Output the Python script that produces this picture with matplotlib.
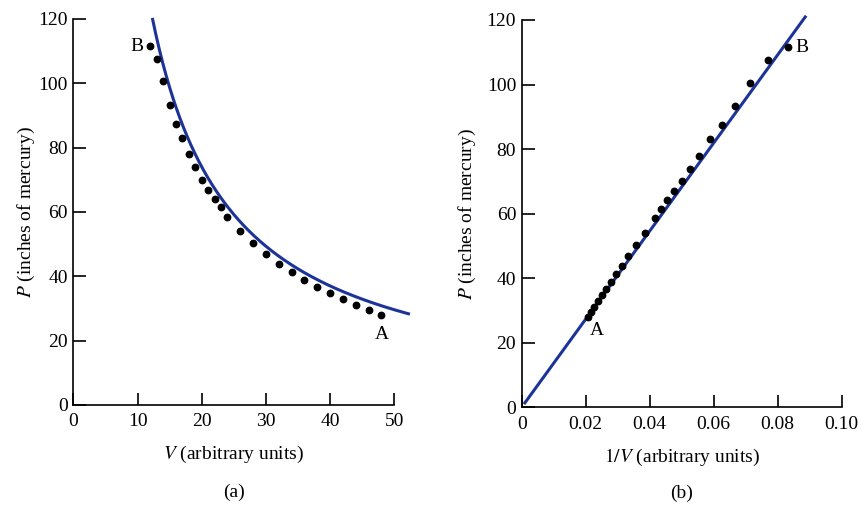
import matplotlib as mpl
mpl.rcParams['font.family'] = 'Liberation Serif'
mpl.rcParams['mathtext.fontset'] = 'stix'
mpl.rcParams['font.size'] = 14
import matplotlib.pyplot as plt
import numpy as np

# Boyle's data: volume (arbitrary units) and pressure (inches of mercury)
volume = [12, 13, 14, 15, 16, 17, 18, 19, 20, 21, 22, 23, 24,
          26, 28, 30, 32, 34, 36, 38, 40, 42, 44, 46, 48]
pressure = [111.5, 107.6, 100.6, 93.2, 87.4, 83.1, 78.0, 73.9, 70.0, 66.9, 64.1, 61.4, 58.5,
            54.1, 50.3, 47.0, 43.8, 41.2, 38.7, 36.7, 34.7, 32.8, 31.0, 29.5, 28.0]

# fitted curves
k_curve = 1480.0        # P = k/V in (a)
v_curve = [12.35, 52.2]  # range of the drawn hyperbola
slope_line = 1365.0     # P = slope * (1/V) in (b)
inv_line = [0.001, 0.0886]

xticks_a = [0, 10, 20, 30, 40, 50]
xticks_b = [0, 0.02, 0.04, 0.06, 0.08, 0.10]
xticklabels_b = ['0', '0.02', '0.04', '0.06', '0.08', '0.10']
yticks = [0, 20, 40, 60, 80, 100, 120]

blue = '#1c3497'

fig = plt.figure(figsize=(8.64, 5.08), dpi=100)
ax1 = fig.add_axes([0.0849, 0.2028, 0.3715, 0.760])
ax2 = fig.add_axes([0.6038, 0.1983, 0.3704, 0.7624])

V = np.array(volume, dtype=float)
P = np.array(pressure)

#----------(a) P vs V----------#
vv = np.linspace(v_curve[0], v_curve[1], 300)
ax1.plot(vv, k_curve/vv, color=blue, lw=2.2, clip_on=False, zorder=2)
ax1.plot(V, P, 'o', color='black', ms=4.6, clip_on=False, zorder=3)
ax1.set_xlim(0, 50)
ax1.set_ylim(0, 120)
ax1.set_xticks(xticks_a)
ax1.set_yticks(yticks)
ax1.set_xlabel('$V$ (arbitrary units)', labelpad=10)
ax1.set_ylabel('$P$ (inches of mercury)', labelpad=1)
ax1.text(V[0] - 1.1, P[0], 'B', ha='right', va='center')
ax1.text(V[-1], P[-1] - 3.5, 'A', ha='center', va='top')
ax1.text(0.5, -0.225, '(a)', transform=ax1.transAxes, ha='center', va='center')

#----------(b) P vs 1/V----------#
xx = np.array(inv_line)
ax2.plot(xx, slope_line*xx, color=blue, lw=2.2, clip_on=False, zorder=2)
ax2.plot(1/V, P, 'o', color='black', ms=4.6, clip_on=False, zorder=3)
ax2.set_xlim(0, 0.10)
ax2.set_ylim(0, 120)
ax2.set_xticks(xticks_b)
ax2.set_xticklabels(xticklabels_b)
ax2.set_yticks(yticks)
ax2.set_xlabel('$1/V$ (arbitrary units)', labelpad=10)
ax2.set_ylabel('$P$ (inches of mercury)', labelpad=6)
ax2.text(1/V[0] + 0.0022, P[0], 'B', ha='left', va='center')
ax2.text(1/V[-1] + 0.0005, P[-1] - 1.5, 'A', ha='left', va='top')
ax2.text(0.5, -0.223, '(b)', transform=ax2.transAxes, ha='center', va='center')

for ax in (ax1, ax2):
    ax.spines['top'].set_visible(False)
    ax.spines['right'].set_visible(False)
    ax.spines['left'].set_linewidth(1.2)
    ax.spines['bottom'].set_linewidth(1.2)
    ax.tick_params(direction='in', length=9, width=1.2, pad=4)
    ax.tick_params(axis='x', pad=6)

fig.savefig('out.png', dpi=100)
